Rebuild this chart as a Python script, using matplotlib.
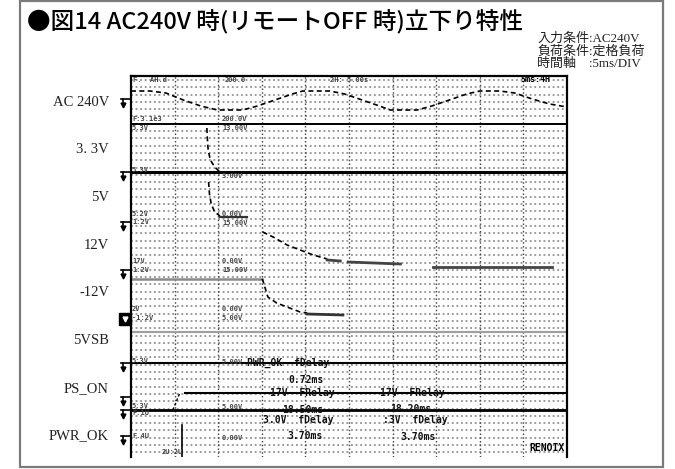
import matplotlib.pyplot as plt
from matplotlib.patches import Rectangle

plt.rcParams['font.family'] = ['Noto Sans CJK JP', 'DejaVu Sans']

# ---- data (time in ms at 5ms/DIV, level = screen row in px from top) ----
ac_t = [0, 2.2, 4.0, 6.0, 8.0, 9.9, 12.8, 14.5, 16.5, 18.5, 19.7, 22.8, 24.5,
        26.5, 28.5, 29.7, 32.8, 34.5, 36.5, 38.5, 40.0, 42.3, 44.0, 46.0, 48.0, 50.0]
ac_v = [15, 15, 17, 24, 30, 34, 34, 30, 24, 18, 15, 15, 18,
        24, 30, 34, 34, 30, 24, 18, 15, 15, 17, 23, 28, 31]

v33_t = [8.7, 8.75, 8.85, 9.1, 9.6, 10.2]
v33_v = [52, 62, 74, 84, 91, 96]

v5_t = [8.9, 9.0, 9.2, 9.6, 10.2]
v5_v = [106, 118, 128, 136, 140]
v5_end_t = [10.2, 13.3]
v5_end_v = [141, 141]

v12_t = [15.1, 16.3, 17.9, 19.4, 20.9, 22.5]
v12_v = [156, 161, 169, 174, 179, 183]
v12_end_t = [[22.5, 24.0], [24.9, 30.9], [34.6, 48.3]]
v12_end_v = [[184, 185], [186, 188], [191, 191]]

n12_pre_t = [0, 15.0]
n12_pre_v = [203, 203]
n12_t = [15.0, 15.1, 15.7, 16.7, 17.9, 19.4, 20.2]
n12_v = [203, 204, 221, 227, 231, 236, 237]
n12_end_t = [20.2, 24.3]
n12_end_v = [238, 239]

vsb_v = 256
rail_v = [48, 96, 287, 334]
rail_w = [1.4, 2.2, 1.5, 2.0]

ps_t = [4.8, 5.6]
ps_v = [334, 317]
ps_end_t = [6.2, 50]
ps_end_v = [317, 317]

pg_t = [5.85, 5.85]
pg_v = [349, 381]

channel_labels = ["AC 240V", "3. 3V", "5V", "12V", "-12V", "5VSB", "PS_ON", "PWR_OK"]
ground_marks = [99, 172, 222, 270, 319, 363, 397, 410, 436]

title = "●図14 AC240V 時(リモートOFF 時)立下り特性"
conditions = ["入力条件:AC240V", "負荷条件:定格負荷", "時間軸\u3000:5ms/DIV"]

# ---- figure ----
W, H = 675, 469
fig = plt.figure(figsize=(W / 100, H / 100), dpi=100)

# scope screen
x0, x1, y0, y1 = 131, 567, 76, 457
sc = fig.add_axes([x0 / W, 1 - y1 / H, (x1 - x0) / W, (y1 - y0) / H])
sc.set_xlim(0, 50)
sc.set_ylim(y1 - y0, 0)
sc.set_xticks([])
sc.set_yticks([])
sc.patch.set_alpha(0)
for s in ["left", "top", "right"]:
    sc.spines[s].set_linewidth(1.6)
sc.spines["bottom"].set_visible(False)

# dotted graticule
row = 0.0
while row < y1 - y0:
    sc.axhline(row + 4, color="#7e7e7e", lw=1.1, ls=(0, (1.2, 1.8)), zorder=1)
    row += 7.3
for t in range(5, 50, 5):
    sc.axvline(t, color="#4a4a4a", lw=1.0, ls=(0, (1.1, 1.6)), zorder=1)

# traces
sc.plot(ac_t, ac_v, color="black", lw=1.2, ls=(0, (3, 2)))
for v, w in zip(rail_v, rail_w):
    sc.axhline(v, color="black", lw=w)
sc.plot(v33_t, v33_v, color="black", lw=1.2, ls=(0, (3, 2)))
sc.plot(v5_t, v5_v, color="black", lw=1.2, ls=(0, (3, 2)))
sc.plot(v5_end_t, v5_end_v, color="#333333", lw=1.6)
sc.plot(v12_t, v12_v, color="black", lw=1.2, ls=(0, (3, 2)))
for t, v in zip(v12_end_t, v12_end_v):
    sc.plot(t, v, color="#444444", lw=2.0)
sc.plot(n12_pre_t, n12_pre_v, color="#8a8a8a", lw=1.8)
sc.plot(n12_t, n12_v, color="black", lw=1.2, ls=(0, (3, 2)))
sc.plot(n12_end_t, n12_end_v, color="#333333", lw=2.0)
sc.axhline(vsb_v, color="#a0a0a0", lw=1.6)
sc.plot(ps_t, ps_v, color="black", lw=1.0, ls=(0, (2, 1.5)))
sc.plot(ps_end_t, ps_end_v, color="black", lw=1.5)
sc.plot(pg_t, pg_v, color="black", lw=1.2)

# page layer (pixel coordinates)
pg = fig.add_axes([0, 0, 1, 1])
pg.set_xlim(0, W)
pg.set_ylim(H, 0)
pg.axis("off")
pg.set_zorder(3)
pg.patch.set_visible(False)

pg.add_patch(Rectangle((20, 1), 643, 466, fill=False, edgecolor="#7a7a7a", lw=1.6))

pg.text(27, 22, title, fontsize=17, va="center", ha="left", color="black",
        fontweight="medium")
for i, s in enumerate(conditions):
    pg.text(537, 39 + 12.5 * i, s, fontsize=9.4, va="center", ha="left",
            family=["Liberation Serif", "Noto Sans CJK JP"], color="#222222")

for i, s in enumerate(channel_labels):
    pg.text(109, 102 + 47.7 * i, s, fontsize=10.5, va="center", ha="right",
            family=["Liberation Serif", "DejaVu Serif"], color="#222222")

# ground markers on the left of the screen
for k, y in enumerate(ground_marks):
    if k == 4:
        pg.plot([120, 131], [y, y], color="black", lw=1.2)
        pg.plot(125, y, marker="s", ms=8, color="black")
        pg.plot(125, y, marker="v", ms=3.5, color="white")
        continue
    pg.plot([121, 131], [y, y], color="black", lw=1.2)
    pg.plot([123, 123], [y, y + 6], color="black", lw=1.2)
    pg.plot(123, y + 6, marker="v", ms=3.5, color="black")

# on-screen readouts
mono = ["DejaVu Sans Mono"]
small = [
    (133, 80, "F.  AH.d"), (225, 80, "200.0"), (330, 80, "2H: 5.00s"),
    (132, 119, "F:3.1e3"), (132, 128, "5.3V"), (222, 119, "200.0V"), (222, 128, "13.00V"),
    (132, 170, "5.3V"), (222, 176, "3.00V"),
    (132, 214, "5:2V"), (132, 222, "1:2V"), (222, 214, "0.00V"), (222, 223, "15.00V"),
    (132, 261, "17V"), (132, 270, "1:2V"), (222, 261, "0.00V"), (222, 270, "15.00V"),
    (132, 309, "2V"), (132, 318, "-1:2V"), (222, 309, "0.00V"), (222, 318, "5.00V"),
    (132, 361, "5:3V"), (222, 362, "5.00V"), (132, 406, "5:3V"), (132, 413, "F.1U"),
    (222, 407, "5.00V"), (132, 436, "F.4U"), (222, 438, "0.00V"), (162, 452, "2U:2U"),
]
for x, y, s in small:
    pg.text(x, y, s, fontsize=5, family=mono, va="center", ha="left",
            color="#444444", fontweight="bold")

readouts = [
    (247, 363, "PWR_OK  fDelay"), (288, 380, "0.72ms"),
    (270, 393, "17V  FRelay"), (380, 393, "17V  FRelay"),
    (282, 410, "18.50ms"), (390, 409, "18.20ms"),
    (263, 420, "3.0V  fDelay"), (383, 420, ":3V  fDelay"),
    (287, 436, "3.70ms"), (400, 437, "3.70ms"),
]
for x, y, s in readouts:
    pg.text(x, y, s, fontsize=7, family=mono, va="center", ha="left",
            color="#111111", fontweight="bold")
pg.text(520, 80, "5ms:4H", fontsize=6, family=mono, va="center", ha="left",
        color="black", fontweight="bold")
pg.text(565, 448, "RENOIX", fontsize=7, family=mono, va="center", ha="right",
        color="black", fontweight="bold")

fig.savefig("out.png", dpi=100)
